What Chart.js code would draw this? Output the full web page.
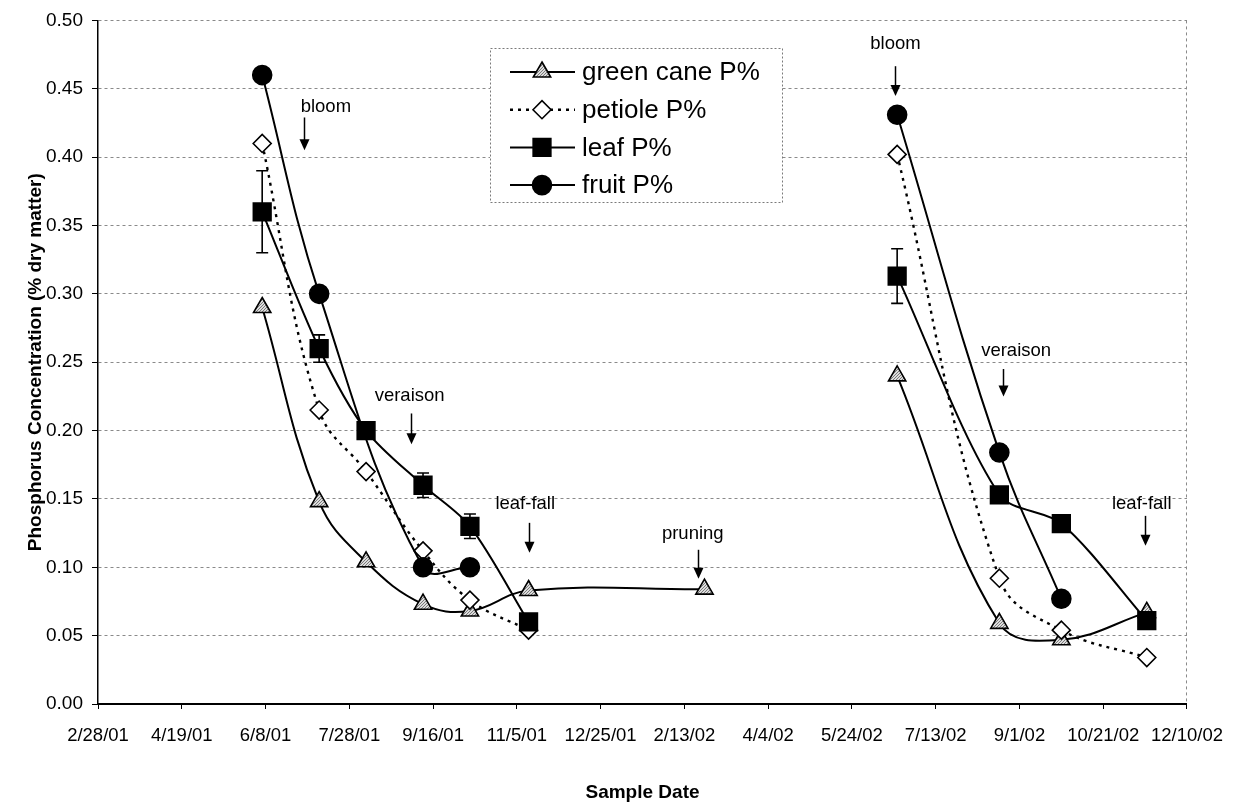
<!DOCTYPE html>
<html>
<head>
<meta charset="utf-8">
<title>Phosphorus concentration by tissue</title>
<script src="https://cdn.jsdelivr.net/npm/chart.js@4.4.0/dist/chart.umd.min.js"></script>
<style>
  html, body { margin: 0; padding: 0; background: #fff; }
  #wrap { width: 1239px; height: 809px; }
</style>
</head>
<body>
<div id="wrap"><canvas id="pChart" width="1239" height="809"></canvas></div>
<script>
const FONT = "'Liberation Sans', Arial, Helvetica, sans-serif";

// sampling dates: first season, pruning, second season
const sampleDates = [
  "2001-06-06", "2001-07-10", "2001-08-07", "2001-09-10", "2001-10-08",
  "2001-11-12", "2002-02-25", "2002-06-20", "2002-08-20", "2002-09-26",
  "2002-11-16",
];
const season = [1, 1, 1, 1, 1, 1, 1, 2, 2, 2, 2];

// P % of dry matter (null = not sampled)
const greenCane = [0.29, 0.148, 0.104, 0.073, 0.068, 0.083, 0.084, 0.24, 0.059, 0.047, 0.067];
const petiole = [0.41, 0.215, 0.17, 0.112, 0.076, 0.054, null, 0.402, 0.092, 0.054, 0.034];
const leaf = [0.36, 0.26, 0.2, 0.16, 0.13, 0.06, null, 0.313, 0.153, 0.132, 0.061];
const leafErr = [0.03, 0.01, 0, 0.009, 0.009, 0, null, 0.02, 0, 0, 0];
const fruit = [0.46, 0.3, null, 0.1, 0.1, null, null, 0.431, 0.184, 0.077, null];

const dateTicks = [
  "2/28/01", "4/19/01", "6/8/01", "7/28/01", "9/16/01", "11/5/01", "12/25/01",
  "2/13/02", "4/4/02", "5/24/02", "7/13/02", "9/1/02", "10/21/02", "12/10/02",
];
const yTicks = ["0.00", "0.05", "0.10", "0.15", "0.20", "0.25", "0.30", "0.35", "0.40", "0.45", "0.50"];

// phenology notes
const noteText = ["bloom", "veraison", "leaf-fall", "pruning", "bloom", "veraison", "leaf-fall"];
const noteTextDate = ["2001-07-14", "2001-09-02", "2001-11-10", "2002-02-18", "2002-06-19", "2002-08-30", "2002-11-13"];
const noteTextValue = [0.437, 0.2256, 0.1463, 0.1245, 0.483, 0.258, 0.146];
const noteArrowDate = ["2001-07-01", "2001-09-03", "2001-11-12", "2002-02-21", "2002-06-19", "2002-08-22", "2002-11-15"];
const noteArrowFrom = [0.429, 0.2125, 0.1325, 0.1128, 0.4665, 0.245, 0.1376];
const noteArrowTo = [0.405, 0.19, 0.1106, 0.0917, 0.4447, 0.225, 0.1157];

const AXIS_START = Date.UTC(2001, 1, 28);
const toDay = (s) => {
  const [y, m, d] = s.split("-").map(Number);
  return (Date.UTC(y, m - 1, d) - AXIS_START) / 86400000;
};

// one point per sample, with a null gap between the two seasons
function seriesPoints(values) {
  const pts = [];
  let prev = null;
  values.forEach((v, i) => {
    if (v === null) return;
    const x = toDay(sampleDates[i]);
    if (prev !== null && season[i] !== prev) {
      pts.push({ x: (x + pts[pts.length - 1].x) / 2, y: null });
    }
    pts.push({ x: x, y: v });
    prev = season[i];
  });
  return pts;
}

// speckled grey fill for the cane triangles
function speckle() {
  const c = document.createElement("canvas");
  c.width = 3;
  c.height = 3;
  const g = c.getContext("2d");
  g.fillStyle = "#dcdcdc";
  g.fillRect(0, 0, 3, 3);
  g.fillStyle = "#7a7a7a";
  g.fillRect(0, 0, 1, 1);
  g.fillRect(2, 1, 1, 1);
  g.fillRect(1, 2, 1, 1);
  return g.createPattern(c, "repeat");
}

Chart.defaults.font.family = FONT;
Chart.defaults.color = "#000";

const baseLine = {
  borderColor: "#000",
  borderWidth: 2,
  tension: 0.4,
  fill: false,
  spanGaps: false,
  pointBorderColor: "#000",
  pointBorderWidth: 1.6,
};

const datasets = [
  Object.assign({}, baseLine, {
    label: "green cane P%",
    data: seriesPoints(greenCane),
    pointStyle: "triangle",
    pointRadius: 10,
    pointBackgroundColor: speckle(),
    order: 3,
  }),
  Object.assign({}, baseLine, {
    label: "petiole P%",
    data: seriesPoints(petiole),
    borderDash: [3, 5],
    borderWidth: 2.4,
    pointStyle: "rectRot",
    pointRadius: 9,
    pointBackgroundColor: "#fff",
    order: 2,
  }),
  Object.assign({}, baseLine, {
    label: "leaf P%",
    data: seriesPoints(leaf),
    tension: 0.3,
    pointStyle: "rect",
    pointRadius: 12.5,
    pointBackgroundColor: "#000",
    order: 1,
  }),
  Object.assign({}, baseLine, {
    label: "fruit P%",
    data: seriesPoints(fruit),
    pointStyle: "circle",
    pointRadius: 9.5,
    pointBackgroundColor: "#000",
    order: 0,
  }),
];

// dotted right-hand frame of the plot area
const plotFrame = {
  id: "plotFrame",
  beforeDatasetsDraw(chart) {
    const { ctx, chartArea: a } = chart;
    ctx.save();
    ctx.strokeStyle = "#8a8a8a";
    ctx.lineWidth = 1;
    ctx.setLineDash([3, 3]);
    ctx.beginPath();
    ctx.moveTo(a.right - 0.5, a.top);
    ctx.lineTo(a.right - 0.5, a.bottom);
    ctx.stroke();
    ctx.restore();
  },
};

// +/- bars on the leaf samples
const errorBars = {
  id: "errorBars",
  afterDatasetsDraw(chart) {
    const { ctx, scales: { x, y } } = chart;
    ctx.save();
    ctx.strokeStyle = "#000";
    ctx.lineWidth = 1.6;
    leaf.forEach((v, i) => {
      const e = leafErr[i];
      if (v === null || !e) return;
      const px = x.getPixelForValue(toDay(sampleDates[i]));
      const top = y.getPixelForValue(v + e);
      const bot = y.getPixelForValue(v - e);
      ctx.beginPath();
      ctx.moveTo(px, top);
      ctx.lineTo(px, bot);
      ctx.moveTo(px - 6, top);
      ctx.lineTo(px + 6, top);
      ctx.moveTo(px - 6, bot);
      ctx.lineTo(px + 6, bot);
      ctx.stroke();
    });
    ctx.restore();
  },
};

// stage labels with down arrows
const notes = {
  id: "notes",
  afterDatasetsDraw(chart) {
    const { ctx, scales: { x, y } } = chart;
    ctx.save();
    ctx.fillStyle = "#000";
    ctx.strokeStyle = "#000";
    ctx.font = "18.5px " + FONT;
    ctx.textAlign = "center";
    ctx.textBaseline = "middle";
    noteText.forEach((t, i) => {
      ctx.fillText(t, x.getPixelForValue(toDay(noteTextDate[i])), y.getPixelForValue(noteTextValue[i]));
      const ax = Math.round(x.getPixelForValue(toDay(noteArrowDate[i]))) + 0.5;
      const y0 = y.getPixelForValue(noteArrowFrom[i]);
      const y1 = y.getPixelForValue(noteArrowTo[i]);
      ctx.lineWidth = 1.5;
      ctx.beginPath();
      ctx.moveTo(ax, y0);
      ctx.lineTo(ax, y1 - 10);
      ctx.stroke();
      ctx.beginPath();
      ctx.moveTo(ax - 5, y1 - 11);
      ctx.lineTo(ax + 5, y1 - 11);
      ctx.lineTo(ax, y1);
      ctx.closePath();
      ctx.fill();
    });
    ctx.restore();
  },
};

// boxed legend inside the plot
const boxLegend = {
  id: "boxLegend",
  afterDraw(chart) {
    const ctx = chart.ctx;
    const box = { x: 490, y: 48, w: 292, h: 154 };
    ctx.save();
    ctx.fillStyle = "#fff";
    ctx.fillRect(box.x, box.y, box.w, box.h);
    ctx.strokeStyle = "#7a7a7a";
    ctx.lineWidth = 1;
    ctx.setLineDash([2, 2]);
    ctx.strokeRect(box.x + 0.5, box.y + 0.5, box.w, box.h);
    ctx.setLineDash([]);
    chart.data.datasets.forEach((ds, i) => {
      const cy = box.y + 24 + i * 37.7;
      ctx.strokeStyle = "#000";
      ctx.lineWidth = ds.borderWidth;
      ctx.setLineDash(ds.borderDash || []);
      ctx.beginPath();
      ctx.moveTo(box.x + 20, cy);
      ctx.lineTo(box.x + 85, cy);
      ctx.stroke();
      ctx.setLineDash([]);
      ctx.fillStyle = ds.pointBackgroundColor;
      ctx.lineWidth = ds.pointBorderWidth;
      Chart.helpers.drawPoint(ctx, {
        pointStyle: ds.pointStyle,
        radius: ds.pointRadius,
        rotation: 0,
        borderWidth: ds.pointBorderWidth,
      }, box.x + 52, cy);
      ctx.fillStyle = "#000";
      ctx.font = "26px " + FONT;
      ctx.textAlign = "left";
      ctx.textBaseline = "middle";
      ctx.fillText(ds.label, box.x + 92, cy + 1);
    });
    ctx.restore();
  },
};

new Chart(document.getElementById("pChart"), {
  type: "line",
  data: { datasets: datasets },
  plugins: [plotFrame, errorBars, notes, boxLegend],
  options: {
    responsive: false,
    animation: false,
    layout: { padding: { top: 17, right: 41, bottom: 0, left: 0 } },
    plugins: {
      legend: { display: false },
      tooltip: { enabled: false },
    },
    scales: {
      x: {
        type: "linear",
        min: 0,
        max: 650,
        afterFit: (s) => { s.height = 105; },
        ticks: {
          stepSize: 50,
          autoSkip: false,
          maxRotation: 0,
          padding: 16,
          font: { size: 18.5 },
          callback: (v, i) => dateTicks[i],
        },
        grid: { drawOnChartArea: false, drawTicks: true, tickLength: 5, tickColor: "#000" },
        border: { display: true, color: "#000", width: 2 },
        title: {
          display: true,
          text: "Sample Date",
          font: { size: 19, weight: "bold" },
          padding: { top: 0, bottom: 5 },
        },
      },
      y: {
        min: 0,
        max: 0.5,
        afterFit: (s) => { s.width = 98; },
        ticks: {
          stepSize: 0.05,
          padding: 9,
          font: { size: 19 },
          callback: (v, i) => yTicks[i],
        },
        grid: { color: "#8a8a8a", lineWidth: 1, drawTicks: true, tickLength: 6, tickColor: "#000" },
        border: { display: true, color: "#000", width: 1.5, dash: [3, 3] },
        title: {
          display: true,
          text: "Phosphorus Concentration (% dry matter)",
          font: { size: 19, weight: "bold" },
          padding: { top: 24, bottom: 0 },
        },
      },
    },
  },
});
</script>
</body>
</html>
